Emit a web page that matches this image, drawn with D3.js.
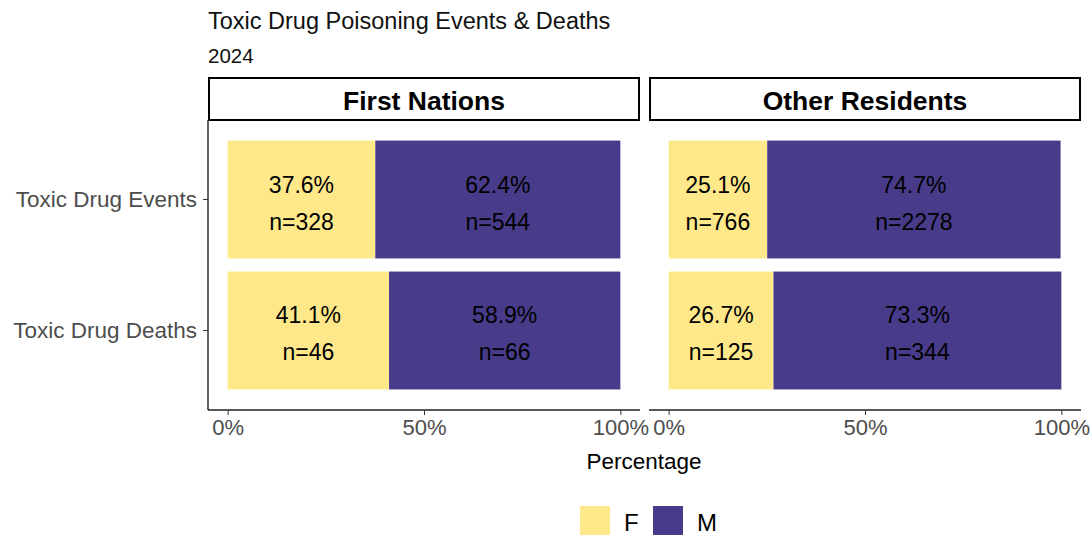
<!DOCTYPE html>
<html>
<head>
<meta charset="utf-8">
<script src="https://cdn.jsdelivr.net/npm/d3@7"></script>
<style>
  body { margin: 0; background: #fff; }
  svg { font-family: "Liberation Sans", Arial, sans-serif; }
</style>
</head>
<body>
<svg id="chart"></svg>
<script>
// data
const panels = ['First Nations', 'Other Residents'];
const categories = ['Toxic Drug Events', 'Toxic Drug Deaths'];
const sexes = ['F', 'M'];
// percentages [panel][category]
const pctF = [[37.6, 41.1], [25.1, 26.7]];
const pctM = [[62.4, 58.9], [74.7, 73.3]];
const countF = [[328, 46], [766, 125]];
const countM = [[544, 66], [2278, 344]];
const xTicks = [0, 50, 100];
const colors = { F: '#FEE88A', M: '#483B8A' };

const width = 1092, height = 536;
const svg = d3.select('#chart').attr('width', width).attr('height', height);

// layout
const panelX = [208, 649];
const panelW = 432;
const stripTop = 77, stripH = 43;
const plotTop = 120, plotH = 290;

svg.append('text')
    .attr('x', 208).attr('y', 29)
    .style('font-size', '23.5px').attr('fill', '#111')
    .text('Toxic Drug Poisoning Events & Deaths');
svg.append('text')
    .attr('x', 208).attr('y', 63)
    .style('font-size', '20.5px').attr('fill', '#111')
    .text('2024');

const yscale = d3.scaleBand()
    .domain(categories)
    .range([plotTop, plotTop + plotH])
    .paddingInner(0.1)
    .paddingOuter(0.157);

panels.forEach((p, pi) => {
    const x0 = panelX[pi];
    const xscale = d3.scaleLinear()
        .domain([-5, 105])
        .range([x0, x0 + panelW]);

    // strip
    svg.append('rect')
        .attr('x', x0 + 1).attr('y', stripTop + 1)
        .attr('width', panelW - 2).attr('height', stripH - 1)
        .attr('fill', '#fff').attr('stroke', '#000').attr('stroke-width', 2);
    svg.append('text')
        .attr('x', x0 + panelW / 2).attr('y', 110)
        .attr('text-anchor', 'middle')
        .style('font-size', '26.5px').style('font-weight', 'bold')
        .text(p);

    const rows = categories.map((c, ci) => ({
        cat: c,
        segs: [
            { sex: 'F', start: 0, value: pctF[pi][ci], n: countF[pi][ci] },
            { sex: 'M', start: pctF[pi][ci], value: pctM[pi][ci], n: countM[pi][ci] }
        ]
    }));

    const g = svg.append('g');
    rows.forEach(r => {
        const segs = g.selectAll(null).data(r.segs).enter();
        segs.append('rect')
            .attr('x', d => xscale(d.start))
            .attr('y', yscale(r.cat))
            .attr('width', d => xscale(d.start + d.value) - xscale(d.start))
            .attr('height', yscale.bandwidth())
            .attr('fill', d => colors[d.sex]);
        const cy = yscale(r.cat) + yscale.bandwidth() / 2;
        segs.append('text')
            .attr('x', d => xscale(d.start + d.value / 2))
            .attr('y', cy - 7)
            .attr('text-anchor', 'middle')
            .style('font-size', '23px').attr('fill', '#000')
            .text(d => d.value.toFixed(1) + '%');
        segs.append('text')
            .attr('x', d => xscale(d.start + d.value / 2))
            .attr('y', cy + 30)
            .attr('text-anchor', 'middle')
            .style('font-size', '23px').attr('fill', '#000')
            .text(d => 'n=' + d.n);
    });

    // x axis
    const xaxis = d3.axisBottom(xscale)
        .tickValues(xTicks)
        .tickSize(5)
        .tickPadding(4)
        .tickFormat(d => d + '%');
    const xg = svg.append('g')
        .attr('transform', `translate(0, ${plotTop + plotH})`)
        .call(xaxis);
    xg.select('.domain').attr('d', `M${x0},0H${x0 + panelW}`).attr('stroke', '#222').attr('stroke-width', 1.4);
    xg.selectAll('.tick line').attr('stroke', '#333');
    xg.selectAll('.tick text')
        .style('font-size', '22px').style('font-family', '"Liberation Sans", Arial, sans-serif')
        .attr('fill', '#4d4d4d');

    // y axis, first panel only
    if (pi === 0) {
        const yaxis = d3.axisLeft(yscale).tickSize(5).tickPadding(6);
        const yg = svg.append('g')
            .attr('transform', `translate(${x0}, 0)`)
            .call(yaxis);
        yg.select('.domain').attr('d', `M0,${plotTop}V${plotTop + plotH}`).attr('stroke', '#222').attr('stroke-width', 1.4);
        yg.selectAll('.tick line').attr('stroke', '#333');
        yg.selectAll('.tick text')
            .style('font-size', '22.5px').style('font-family', '"Liberation Sans", Arial, sans-serif')
            .attr('fill', '#4d4d4d');
    }
});

svg.append('text')
    .attr('x', 644).attr('y', 469)
    .attr('text-anchor', 'middle')
    .style('font-size', '22.5px')
    .text('Percentage');

// legend
const legend = svg.append('g').attr('transform', 'translate(580, 506)');
const lg = legend.selectAll('g').data(sexes).enter().append('g')
    .attr('transform', (d, i) => `translate(${i * 73}, 0)`);
lg.append('rect')
    .attr('width', 30).attr('height', 29)
    .attr('fill', d => colors[d]);
lg.append('text')
    .attr('x', 44).attr('y', 25)
    .style('font-size', '24px')
    .text(d => d);
</script>
</body>
</html>
